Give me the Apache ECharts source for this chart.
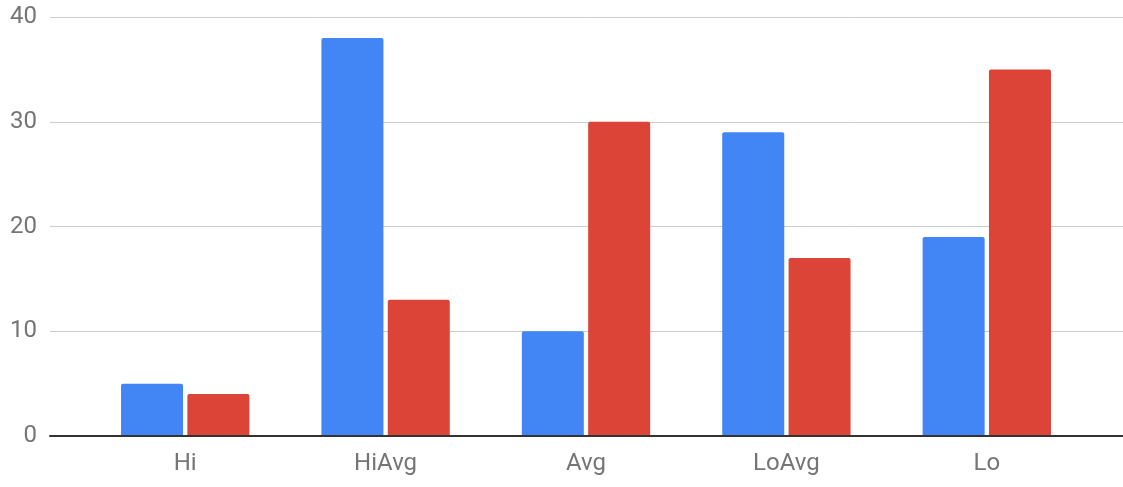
<!DOCTYPE html>
<html>
<head>
<meta charset="utf-8">
<script src="https://cdn.jsdelivr.net/npm/echarts@6/dist/echarts.min.js"></script>
<style>
  html, body { margin: 0; padding: 0; background: #fff; }
  #chart { width: 1123px; height: 487px; }
</style>
</head>
<body>
<div id="chart"></div>
<script>
// Category names and the two series of values
const categories = ['Hi', 'HiAvg', 'Avg', 'LoAvg', 'Lo'];
const blueValues = [5, 38, 10, 29, 19];
const redValues = [4, 13, 30, 17, 35];
const yTicks = [0, 10, 20, 30, 40];

const FONT = 'Roboto, "Noto Sans", sans-serif';
const TOP = 17, BOTTOM = 51;

const chart = echarts.init(document.getElementById('chart'), null, { renderer: 'canvas' });

chart.setOption({
  animation: false,
  grid: [
    // full-width frame carrying the value ticks, gridlines and baseline
    { left: 50, right: 0, top: TOP, bottom: BOTTOM },
    // inner band where the categories and bars sit
    { left: 85, right: 36, top: TOP, bottom: BOTTOM }
  ],
  xAxis: [
    {
      type: 'category', gridIndex: 0, data: [''],
      axisLine: { show: true, lineStyle: { color: '#333', width: 2 } },
      axisTick: { show: false }, axisLabel: { show: false }, splitLine: { show: false },
      z: 5
    },
    {
      type: 'category', gridIndex: 1, data: categories,
      axisLine: { show: false }, axisTick: { show: false },
      axisLabel: { color: '#757575', fontSize: 24, fontFamily: FONT, margin: 16 }
    }
  ],
  yAxis: [
    {
      type: 'value', gridIndex: 0, min: yTicks[0], max: yTicks[yTicks.length - 1], interval: 10,
      axisLine: { show: false }, axisTick: { show: false },
      axisLabel: { color: '#757575', fontSize: 24, fontFamily: FONT, margin: 13 },
      splitLine: { lineStyle: { color: '#cccccc', width: 1 } }
    },
    {
      type: 'value', gridIndex: 1, min: yTicks[0], max: yTicks[yTicks.length - 1], interval: 10,
      show: false
    }
  ],
  series: [
    {
      type: 'bar', xAxisIndex: 1, yAxisIndex: 1, data: blueValues,
      barWidth: 62, barGap: '7%',
      itemStyle: { color: '#4285f4', borderRadius: [2, 2, 0, 0] }
    },
    {
      type: 'bar', xAxisIndex: 1, yAxisIndex: 1, data: redValues,
      barWidth: 62, barGap: '7%',
      itemStyle: { color: '#db4437', borderRadius: [2, 2, 0, 0] }
    }
  ]
});
</script>
</body>
</html>
